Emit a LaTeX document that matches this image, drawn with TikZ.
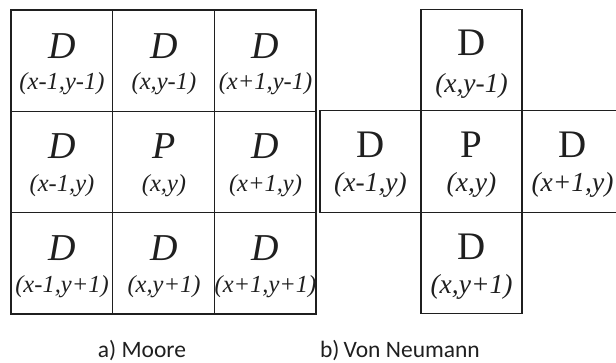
\documentclass[tikz,border=0pt]{standalone}
\usepackage{fontspec}
\setmainfont{Liberation Serif}
\newfontfamily\capfont{Carlito}
\definecolor{ink}{gray}{0.12}
\begin{document}
\begin{tikzpicture}[x=1pt,y=-1pt,
  mcell/.style={draw=ink,line width=1.4pt,minimum width=101.7pt,minimum height=101.3pt,inner sep=0pt},
  vcell/.style={draw=ink,line width=1.4pt,minimum width=101pt,minimum height=101.5pt,inner sep=0pt},
  mD/.style={anchor=base,inner sep=0pt,text=ink,font=\fontsize{38}{40}\selectfont\itshape},
  vD/.style={anchor=base,inner sep=0pt,text=ink,font=\fontsize{39}{40}\selectfont},
  mC/.style={anchor=base,inner sep=0pt,text=ink,font=\fontsize{24.5}{26}\selectfont\itshape},
  vC/.style={anchor=base,inner sep=0pt,text=ink,font=\fontsize{27.5}{29}\selectfont\itshape},
  captext/.style={anchor=base,inner sep=0pt,text=ink,font=\fontsize{23.5}{26}\capfont}]
\useasboundingbox (0,0) rectangle (616,362);
\begin{scope}
\clip (0,0) rectangle (616,362);
% Moore grid
\node[mcell] (m11) at (61.9,60.7) {};
\node[mcell] (m12) at (163.6,60.7) {};
\node[mcell] (m13) at (265.3,60.7) {};
\node[mcell] (m21) at (61.9,162) {};
\node[mcell] (m22) at (163.6,162) {};
\node[mcell] (m23) at (265.3,162) {};
\node[mcell] (m31) at (61.9,263.3) {};
\node[mcell] (m32) at (163.6,263.3) {};
\node[mcell] (m33) at (265.3,263.3) {};
% Von Neumann
\node[vcell] (vn) at (471.5,60) {};
\node[vcell] (vw) at (370.5,161.5) {};
\node[vcell] (vc) at (471.5,161.5) {};
\node[vcell] (ve) at (572.5,161.5) {};
\node[vcell] (vs) at (471.5,263) {};
\end{scope}
% Moore texts
\node[mD] (m11D) at (62,58) {D};
\node[mC] (m11C) at (62,89) {(x-1,y-1)};
\node[mD] (m12D) at (164,58) {D};
\node[mC] (m12C) at (164,89) {(x,y-1)};
\node[mD] (m13D) at (265.5,58) {D};
\node[mC] (m13C) at (265.5,89) {(x+1,y-1)};
\node[mD] (m21D) at (62,158) {D};
\node[mC] (m21C) at (62,191) {(x-1,y)};
\node[mD] (m22D) at (164,158) {P};
\node[mC] (m22C) at (164,191) {(x,y)};
\node[mD] (m23D) at (265.5,158) {D};
\node[mC] (m23C) at (265.5,191) {(x+1,y)};
\node[mD] (m31D) at (62,260) {D};
\node[mC] (m31C) at (62,292) {(x-1,y+1)};
\node[mD] (m32D) at (164,260) {D};
\node[mC] (m32C) at (164,292) {(x,y+1)};
\node[mD] (m33D) at (265.5,260) {D};
\node[mC] (m33C) at (265.5,292) {(x+1,y+1)};
% Von Neumann texts
\node[vD] (vnD) at (471.5,55) {D};
\node[vC] (vnC) at (471.5,92) {(x,y-1)};
\node[vD] (vwD) at (370.5,157) {D};
\node[vC] (vwC) at (370.5,191) {(x-1,y)};
\node[vD] (vcD) at (471.5,157) {P};
\node[vC] (vcC) at (471.5,191) {(x,y)};
\node[vD] (veD) at (572.5,157) {D};
\node[vC] (veC) at (572.5,191) {(x+1,y)};
\node[vD] (vsD) at (471.5,259) {D};
\node[vC] (vsC) at (471.5,293) {(x,y+1)};
% captions
\node[captext] (capa) at (142,357) {a) Moore};
\node[captext] (capb) at (400,357) {b)\,Von Neumann};
\end{tikzpicture}
\end{document}
